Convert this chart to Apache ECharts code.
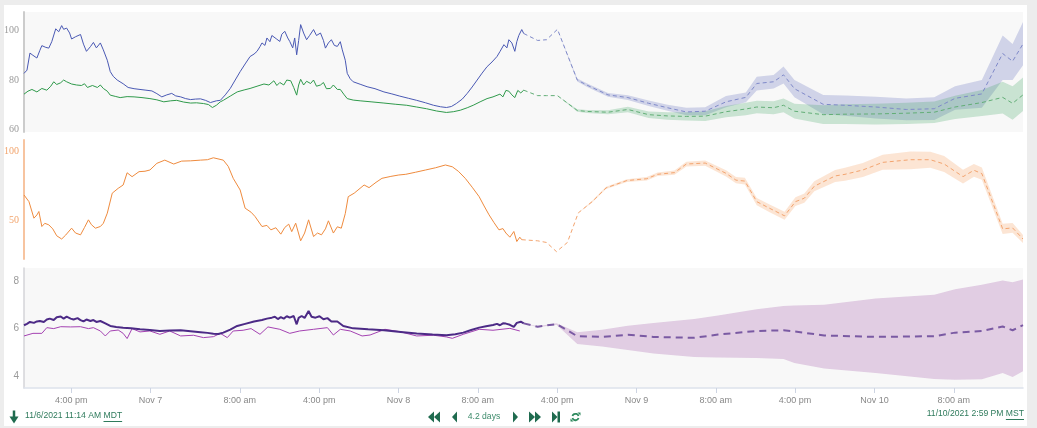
<!DOCTYPE html>
<html><head><meta charset="utf-8">
<script src="https://cdn.jsdelivr.net/npm/echarts@6.0.0/dist/echarts.min.js"></script>
<style>
html,body{margin:0;padding:0;background:#ededed;}
#card{position:absolute;left:4px;top:5px;width:1023px;height:421px;background:#fff;}
#chart{position:absolute;left:0;top:0;width:1037px;height:428px;}
</style></head><body>
<div id="card"></div><div id="chart"></div>
<script>
// time axis in hours since 11/6/2021 11:14 AM MDT (17:14 UTC)
const xMax = 100.75;
const xTickHours = [4.767, 12.767, 21.767, 29.767, 37.767, 45.767, 53.767, 61.767, 69.767, 77.767, 85.767, 93.767];
const xTickLabels = ['4:00 pm','Nov 7','8:00 am','4:00 pm','Nov 8','8:00 am','4:00 pm','Nov 9','8:00 am','4:00 pm','Nov 10','8:00 am'];
const y1Ticks = [60, 80, 100];
const y2Ticks = [50, 100];
const y3Ticks = [4, 6, 8];
const startText = '11/6/2021 11:14 AM', startZone = 'MDT';
const endText = '11/10/2021 2:59 PM', endZone = 'MST';
const spanText = '4.2 days';

// ---- panel 1 observed ----
const obsBlue = [[0,82.7],[0.3,84],[0.6,90.9],[0.9,90],[1.3,88.9],[1.6,92],[1.8,93.9],[2.2,93.2],[2.5,92.9],[2.8,95.5],[3.2,100.7],[3.5,99.5],[3.8,102],[4.0,100.5],[4.3,101],[4.6,99],[4.8,96.6],[5.2,97.5],[5.7,98.4],[6.0,94.5],[6.3,91.6],[6.7,93.5],[7.0,95.2],[7.3,93],[7.7,95],[8.0,92.2],[8.4,88],[8.7,83.4],[9.0,81.5],[9.4,80],[10.0,78.5],[10.5,77],[11.1,76.5],[11.7,76.2],[12.3,75.9],[12.9,75.6],[13.4,74.5],[13.9,73.2],[14.4,74],[14.9,74.6],[15.3,73.6],[15.8,73.2],[16.3,72.5],[16.8,72.1],[17.3,72.3],[17.8,72.4],[18.3,71.8],[18.8,70.9],[19.4,71.6],[19.8,71.8],[20.3,74],[20.8,76.6],[21.3,80],[21.8,83.4],[22.3,86.5],[22.8,89.5],[23.2,90.5],[23.5,91.6],[23.8,93.5],[24.0,95],[24.3,94],[24.5,97],[24.8,95.5],[25.0,98],[25.2,98.4],[25.5,96.5],[25.8,95.6],[26.0,98.5],[26.3,99.7],[26.6,97],[26.8,95.6],[27.1,93],[27.3,97],[27.5,90.2],[27.7,96],[27.9,102.4],[28.2,99],[28.5,96.3],[28.8,98],[29.2,100.4],[29.5,98],[29.9,99],[30.2,96],[30.4,92.9],[30.7,95],[31.0,96.3],[31.3,94],[31.6,93.6],[31.9,95.5],[32.1,92.2],[32.4,88],[32.6,82.7],[32.9,80.5],[33.2,79.3],[33.9,78.3],[34.6,77.3],[35.4,76.5],[36.3,75.2],[37.1,74.4],[37.9,73.5],[38.8,72.6],[39.6,71.8],[40.5,70.8],[41.3,69.8],[42.0,69.2],[42.6,68.9],[43.1,69.3],[43.6,70.5],[44.2,72.3],[44.7,74.6],[45.2,77.2],[45.7,80],[46.2,82.8],[46.7,85.4],[47.2,87.3],[47.7,89.5],[48.0,91.5],[48.4,94.3],[48.7,93],[48.9,96.3],[49.2,95],[49.5,91.6],[49.7,95.5],[49.9,98],[50.2,100.4],[50.4,98.8]];
const obsGreen = [[0,74.3],[0.4,75.5],[0.8,76.2],[1.3,75.2],[1.8,76.6],[2.3,75.9],[2.7,77.5],[3.0,79.3],[3.3,78.2],[3.7,78.9],[4.0,80],[4.3,79.3],[4.8,78.4],[5.3,78],[5.8,77.8],[6.1,78.5],[6.4,77],[6.9,77.8],[7.4,77],[7.7,78],[8.0,76.6],[8.4,75.5],[8.7,73.9],[9.2,73.4],[9.7,72.9],[10.4,73.3],[11.1,73.2],[11.9,72.9],[12.7,72.5],[13.4,72],[14.1,71.2],[14.8,71.6],[15.4,71.8],[16.1,71.1],[16.8,70.7],[17.4,70.8],[18.1,70.5],[18.6,70.1],[19.0,68.9],[19.4,69.8],[19.8,71.2],[20.1,71.8],[20.8,73.5],[21.5,75.2],[22.2,76],[22.8,76.6],[23.5,77.5],[24.2,78.4],[24.7,78],[25.2,79.7],[25.5,77.8],[25.8,79],[26.2,78],[26.5,80],[26.9,79.7],[27.2,77],[27.5,73.9],[27.7,78],[27.9,80.3],[28.2,78],[28.5,79.5],[28.9,78.6],[29.2,80],[29.5,77.5],[29.9,78],[30.2,79],[30.5,76.5],[30.9,76.6],[31.2,78],[31.6,76.2],[31.9,76.2],[32.3,74],[32.6,72.5],[33.2,71.9],[33.9,71.6],[35.0,71.2],[36.3,70.7],[37.5,70.2],[38.6,69.8],[39.6,69.1],[40.6,68.4],[41.6,67.5],[42.6,66.9],[43.3,67.2],[44.0,67.8],[44.7,68.8],[45.3,69.8],[46.0,71.2],[46.7,72.5],[47.3,73.2],[48.0,74.3],[48.3,73.2],[48.6,75.8],[48.9,75.5],[49.2,74],[49.5,72.9],[49.8,75.8],[50.1,74.8],[50.4,75.9]];

// ---- panel 1 forecast ----
const fcH1 = [50.4, 51.8, 52.7, 53.8, 55.8, 56.8, 58.9, 60.9, 63.0, 64.9, 66.8, 68.7, 70.8, 72.8, 73.9, 75.6, 76.6, 77.7, 80.6, 82.8, 85.9, 89.0, 91.8, 93.9, 96.6, 98.7, 99.7, 100.75];
const blueFc = [98.8, 96.0, 96.3, 100.5, 80.0, 77.9, 74.0, 72.9, 70.6, 68.8, 67.1, 67.4, 71.2, 73.0, 78.6, 79.3, 82.1, 76.5, 70.2, 69.8, 69.1, 68.1, 68.4, 72.6, 74.4, 90.7, 87.6, 94.6];
const blueHi = [98.8, 96.0, 96.3, 100.5, 80.6, 78.6, 74.8, 73.9, 71.7, 70.0, 68.8, 69.0, 73.5, 75.0, 81.3, 82.0, 85.5, 80.0, 74.0, 73.8, 73.2, 72.5, 73.0, 77.5, 80.0, 98.0, 94.6, 103.5];
const blueLo = [98.8, 96.0, 96.3, 100.5, 79.4, 77.2, 73.2, 71.9, 69.5, 67.6, 65.8, 65.8, 69.0, 71.0, 75.8, 76.6, 78.6, 73.0, 66.2, 65.6, 64.5, 63.7, 63.8, 68.0, 68.8, 80.0, 80.0, 86.0];
const greenFc = [75.9, 73.7, 73.7, 73.7, 67.7, 67.3, 67.0, 68.1, 66.0, 65.5, 65.3, 65.4, 67.2, 68.3, 69.1, 68.8, 69.8, 67.4, 66.0, 66.2, 66.3, 66.6, 67.0, 69.1, 70.9, 73.0, 70.6, 74.0];
const greenHi = [75.9, 73.7, 73.7, 73.7, 68.2, 67.9, 67.8, 69.2, 67.3, 67.0, 67.0, 67.4, 69.5, 70.8, 71.6, 71.4, 72.5, 70.4, 69.8, 70.2, 70.4, 70.8, 71.3, 73.7, 76.0, 79.3, 77.5, 81.0];
const greenLo = [75.9, 73.7, 73.7, 73.7, 67.2, 66.7, 66.2, 67.0, 64.7, 64.0, 63.6, 63.4, 65.0, 65.8, 66.6, 66.2, 67.0, 64.5, 62.2, 62.2, 62.0, 62.2, 62.6, 64.3, 65.5, 66.5, 64.0, 67.5];

// ---- panel 2 ----
const obsOrange = [[0,68.4],[0.5,63.6],[1.0,51.7],[1.3,54],[1.5,56.5],[1.8,45.7],[2.1,48],[2.5,46.9],[2.9,44],[3.3,39],[3.8,36.7],[4.2,39.5],[4.8,44.5],[5.2,41],[5.7,39.7],[6.1,45],[6.5,50.5],[6.8,47],[7.2,44.5],[7.7,45.7],[8.0,48],[8.4,55.3],[8.9,69.7],[9.5,73.2],[10.0,75.6],[10.4,84.4],[10.9,81.6],[11.6,85.2],[12.2,85.5],[12.7,86.4],[13.4,91.2],[14.2,93.5],[15.1,90.7],[15.9,92.8],[16.8,93],[17.8,93.5],[18.5,93.8],[19.1,95.2],[20.1,93.5],[20.6,89],[21.1,80.4],[21.8,72],[22.3,58.9],[22.9,56],[23.3,52.9],[24.0,45.7],[24.5,46.5],[24.9,43.3],[25.4,44.8],[25.9,40.2],[26.3,45],[26.7,47.4],[27.0,42],[27.4,48.1],[27.9,35.4],[28.3,41],[28.7,50.5],[29.2,38.5],[29.6,41],[30.0,39.7],[30.4,44],[30.7,49.8],[31.2,41],[31.6,45.5],[32.0,44.5],[32.4,55],[32.7,67.2],[33.3,69.7],[34.3,75.6],[34.8,73.7],[35.5,77.5],[36.1,80.4],[37.0,81.8],[37.8,82.8],[38.5,83.3],[39.5,84.8],[40.5,86.4],[41.5,88],[42.5,90],[43.2,88.7],[43.8,85.5],[44.5,80.4],[45.2,74],[45.9,67.2],[46.4,60.5],[46.9,54.1],[47.4,48.5],[47.9,43.3],[48.3,44.2],[48.6,41],[49.0,38],[49.4,42.1],[49.7,34.9],[50.0,38],[50.2,36.2]];
const fcH2 = [50.2, 51.8, 52.7, 53.7, 54.8, 55.9, 57.3, 58.7, 60.8, 62.8, 63.9, 65.6, 66.8, 68.7, 70.8, 71.8, 72.7, 73.9, 75.2, 76.7, 77.8, 78.7, 79.7, 81.8, 82.8, 84.6, 86.6, 89.4, 91.4, 92.8, 94.7, 95.8, 96.6, 98.7, 99.7, 100.75];
const orangeFc = [36.2, 35.4, 34.2, 27.6, 34.2, 55.5, 63.6, 73.5, 78.8, 80.1, 83.3, 84.5, 90.7, 91.4, 84.0, 79.1, 78.4, 63.6, 58.8, 53.4, 63.6, 66.1, 74.7, 82.1, 83.3, 86.4, 91.9, 93.8, 93.8, 90.7, 81.6, 86.2, 83.8, 44.0, 44.7, 36.7];
const orangeHi = [36.2, 35.4, 34.2, 27.6, 34.2, 55.5, 64.3, 74.3, 79.8, 81.3, 84.6, 86.0, 92.4, 93.3, 86.2, 81.4, 80.8, 66.2, 61.5, 56.3, 66.7, 69.4, 78.3, 86.4, 88.0, 91.4, 97.3, 99.7, 99.6, 96.4, 86.6, 90.8, 88.2, 47.7, 48.2, 39.5];
const orangeLo = [36.2, 35.4, 34.2, 27.6, 34.2, 55.5, 62.9, 72.7, 77.8, 78.9, 82.0, 83.0, 89.0, 89.5, 81.8, 76.8, 76.0, 61.0, 56.0, 50.5, 60.5, 62.8, 71.1, 77.8, 78.6, 81.4, 86.5, 86.9, 88.0, 85.0, 76.6, 81.6, 79.4, 40.3, 41.2, 33.9];

// ---- panel 3 ----
const obsPurple = [[0,6.14],[0.3,6.2],[0.6,6.28],[1.0,6.24],[1.3,6.3],[1.6,6.32],[2.0,6.28],[2.3,6.38],[2.6,6.42],[3.0,6.36],[3.3,6.48],[3.7,6.51],[4.0,6.42],[4.3,6.5],[4.7,6.42],[5.0,6.38],[5.4,6.44],[5.7,6.36],[6.0,6.3],[6.3,6.38],[6.7,6.32],[7.0,6.36],[7.3,6.28],[7.7,6.32],[8.2,6.22],[8.7,6.11],[9.3,6.07],[10.0,6.04],[10.8,6.01],[11.7,5.97],[12.7,5.94],[13.7,5.9],[14.7,5.92],[15.8,5.93],[16.8,5.89],[17.8,5.85],[18.5,5.82],[19.1,5.78],[19.6,5.77],[20.1,5.83],[20.8,5.96],[21.5,6.11],[22.3,6.2],[23.2,6.3],[24.0,6.36],[24.5,6.42],[25.0,6.46],[25.3,6.5],[25.6,6.4],[25.9,6.48],[26.2,6.42],[26.5,6.52],[26.8,6.46],[27.2,6.53],[27.5,6.18],[27.7,6.45],[28.0,6.53],[28.3,6.45],[28.7,6.74],[29.0,6.5],[29.4,6.46],[29.8,6.52],[30.2,6.39],[30.6,6.44],[31.0,6.3],[31.2,6.25],[31.6,6.3],[32.2,6.11],[33.2,6.01],[34.7,5.97],[36.3,5.93],[38.0,5.86],[39.6,5.79],[41.2,5.75],[42.6,5.72],[43.5,5.76],[44.3,5.83],[45.1,5.94],[45.9,6.04],[46.6,6.1],[47.3,6.15],[47.7,6.2],[48.0,6.14],[48.3,6.22],[48.6,6.21],[49.0,6.16],[49.4,6.07],[49.7,6.24],[50.1,6.29],[50.4,6.22]];
const obsMagenta = [[0,5.69],[0.9,5.8],[1.8,5.8],[2.3,6.04],[3.0,6.0],[3.7,6.08],[4.7,6.07],[5.7,6.08],[6.5,6.0],[7.0,6.04],[7.7,5.9],[8.2,5.69],[8.7,5.9],[9.5,5.94],[10.0,5.8],[10.4,5.58],[10.9,6.0],[11.7,5.86],[12.7,5.9],[13.7,5.76],[14.7,5.9],[15.8,5.69],[17.1,5.72],[18.1,5.62],[19.1,5.66],[19.8,5.8],[20.5,5.62],[21.1,5.9],[22.1,5.93],[22.9,6.0],[23.8,5.76],[24.6,6.07],[25.8,5.97],[26.8,5.8],[27.8,5.9],[29.2,5.97],[30.6,6.04],[31.2,5.73],[31.9,5.97],[32.9,5.9],[34.1,5.69],[34.9,5.73],[36.4,5.97],[37.9,5.87],[39.6,5.69],[41.3,5.72],[42.6,5.65],[43.2,5.59],[44.3,5.76],[45.9,5.97],[47.3,5.93],[49.0,6.01],[50.0,5.9]];
const fcH3 = [50.4, 51.8, 53.7, 55.8, 58.3, 60.9, 63.5, 67.6, 70.0, 73.9, 76.6, 77.7, 80.7, 85.9, 91.8, 93.9, 96.6, 98.7, 99.7, 100.75];
const purpleFc = [6.22, 6.08, 6.19, 5.68, 5.65, 5.74, 5.65, 5.61, 5.75, 5.90, 5.93, 5.88, 5.71, 5.65, 5.68, 5.83, 5.90, 6.09, 5.93, 6.15];
const purpleHi = [6.22, 6.10, 6.22, 5.85, 5.95, 6.12, 6.24, 6.40, 6.55, 6.81, 6.95, 6.97, 7.00, 7.27, 7.42, 7.66, 7.85, 8.02, 7.95, 8.07];
const purpleLo = [6.22, 6.06, 6.16, 5.35, 5.25, 5.10, 4.95, 4.80, 4.78, 4.76, 4.72, 4.55, 4.32, 4.13, 3.88, 3.85, 3.87, 4.13, 3.96, 4.20];

// ---------------------------------------------------------------
const zip = (h, v) => h.map((x, i) => [x, v[i]]);
function line(idx, data, color, width, dash, z) {
  return { type: 'line', xAxisIndex: idx, yAxisIndex: idx, data: data, showSymbol: false, symbol: 'none',
    silent: true, z: z, lineStyle: { color: color, width: width, type: dash ? dash : 'solid' } };
}
// confidence band drawn as one polygon through the axis scales
function band(idx, h, lo, hi, color) {
  return { type: 'custom', xAxisIndex: idx, yAxisIndex: idx, silent: true, z: 1,
    data: [[h[0], lo[0]]],
    renderItem: function (params, api) {
      const top = h.map((x, i) => api.coord([x, hi[i]]));
      const bot = h.map((x, i) => api.coord([x, lo[i]])).reverse();
      return { type: 'polygon', shape: { points: top.concat(bot) }, style: { fill: color } };
    } };
}
const FONT = '"Liberation Sans", Arial, sans-serif';
const TFONT = '8.6px ' + FONT;
const mctx = document.createElement('canvas').getContext('2d');
mctx.font = TFONT;
const tw = s => mctx.measureText(s).width;

const gridBase = { left: 24, right: 14, containLabel: false, show: true, borderWidth: 0 };
function xAx(idx, showLabels) {
  return { type: 'value', gridIndex: idx, min: 0, max: xMax,
    axisLine: { show: showLabels, lineStyle: { color: '#dde2ec', width: 1.5 } },
    axisTick: { show: showLabels, customValues: xTickHours, length: 5, lineStyle: { color: '#cdd4e2' } },
    axisLabel: { show: showLabels, customValues: xTickHours, color: '#888', fontSize: 9, fontFamily: FONT, margin: 8,
      formatter: v => { const i = xTickHours.findIndex(t => Math.abs(t - v) < 0.01); return i >= 0 ? xTickLabels[i] : ''; } },
    splitLine: { show: false } };
}
function yAx(idx, min, max, ticks, lineColor, lineWidth, labelColor, family) {
  return { type: 'value', gridIndex: idx, min: min, max: max,
    axisLine: { show: true, lineStyle: { color: lineColor, width: lineWidth } },
    axisTick: { show: false },
    axisLabel: { customValues: ticks, color: labelColor, fontSize: 10, fontFamily: family, margin: 5 },
    splitLine: { show: false } };
}
const G = '#1f6b4f', GT = '#2f7b5c';
function txt(x, y, s, align, color) {
  return { type: 'text', x: x, y: y, style: { text: s, fill: color || GT, font: TFONT, textAlign: align, textVerticalAlign: 'middle', align: align, verticalAlign: 'middle' } };
}
const sw = tw(' ');
const mdtX = 25 + tw(startText) + sw;
const mstW = tw(endZone);
const mstX = 1024 - mstW;

const chart = echarts.init(document.getElementById('chart'), null, { renderer: 'canvas' });
chart.setOption({
  animation: false,
  backgroundColor: 'transparent',
  grid: [
    Object.assign({}, gridBase, { top: 12, height: 120, backgroundColor: '#f8f8f8' }),
    Object.assign({}, gridBase, { top: 140, height: 119, backgroundColor: '#ffffff' }),
    Object.assign({}, gridBase, { top: 268, height: 120, backgroundColor: '#f8f8f8' })
  ],
  xAxis: [xAx(0, false), xAx(1, false), xAx(2, true)],
  yAxis: [
    yAx(0, 59, 107.5, y1Ticks, '#cccccc', 2, '#9a9a9a', '"Liberation Serif", "DejaVu Serif", serif'),
    yAx(1, 22.3, 108, y2Ticks, '#f7c4a0', 2, '#f2a46c', '"Liberation Serif", "DejaVu Serif", serif'),
    yAx(2, 3.5, 8.55, y3Ticks, '#d4d4d8', 1.5, '#9a9a9a', FONT)
  ],
  series: [
    band(0, fcH1, blueLo, blueHi, 'rgba(100,110,190,0.27)'),
    band(0, fcH1, greenLo, greenHi, 'rgba(60,165,95,0.25)'),
    line(0, zip(fcH1, blueFc), '#7f89c9', 1, [4, 3], 3),
    line(0, zip(fcH1, greenFc), '#62ae76', 1, [4, 3], 3),
    line(0, obsGreen, '#2f9a4b', 1, null, 4),
    line(0, obsBlue, '#4a59b4', 1, null, 4),
    band(1, fcH2, orangeLo, orangeHi, 'rgba(245,150,85,0.25)'),
    line(1, zip(fcH2, orangeFc), '#f3a46f', 1, [4, 3], 3),
    line(1, obsOrange, '#ef8b3e', 1, null, 4),
    band(2, fcH3, purpleLo, purpleHi, 'rgba(155,75,165,0.25)'),
    line(2, zip(fcH3, purpleFc), '#7a5aa3', 2, [7, 5], 3),
    line(2, obsMagenta, '#a442b2', 1, null, 4),
    line(2, obsPurple, '#4c2a86', 2, null, 5)
  ],
  graphic: [
    { type: 'line', shape: { x1: 14, y1: 410.5, x2: 14, y2: 418 }, style: { stroke: G, lineWidth: 2.5 } },
    { type: 'polygon', shape: { points: [[9.5, 416.5], [18.5, 416.5], [14, 423.5]] }, style: { fill: G } },
    txt(25, 415.5, startText, 'left'),
    txt(mdtX, 415.5, startZone, 'left'),
    { type: 'line', shape: { x1: mdtX, y1: 421.5, x2: mdtX + tw(startZone), y2: 421.5 }, style: { stroke: GT, lineWidth: 1 } },

    { type: 'polygon', shape: { points: [[428, 417], [434, 411.5], [434, 422.5]] }, style: { fill: G } },
    { type: 'polygon', shape: { points: [[434, 417], [440, 411.5], [440, 422.5]] }, style: { fill: G } },
    { type: 'polygon', shape: { points: [[452, 417], [457, 411.5], [457, 422.5]] }, style: { fill: G } },
    txt(484, 416.5, spanText, 'center', '#3d8b6b'),
    { type: 'polygon', shape: { points: [[513, 411.5], [518, 417], [513, 422.5]] }, style: { fill: G } },
    { type: 'polygon', shape: { points: [[529, 411.5], [535, 417], [529, 422.5]] }, style: { fill: G } },
    { type: 'polygon', shape: { points: [[535, 411.5], [541, 417], [535, 422.5]] }, style: { fill: G } },
    { type: 'polygon', shape: { points: [[552, 411.5], [557.5, 417], [552, 422.5]] }, style: { fill: G } },
    { type: 'rect', shape: { x: 557.5, y: 411.5, width: 2.5, height: 11 }, style: { fill: G } },
    { type: 'arc', shape: { cx: 575.5, cy: 417, r: 3.2, startAngle: Math.PI * 1.1, endAngle: Math.PI * 1.9 }, style: { stroke: '#2e8a5e', lineWidth: 1.8, fill: 'none' } },
    { type: 'arc', shape: { cx: 575.5, cy: 417, r: 3.2, startAngle: Math.PI * 0.1, endAngle: Math.PI * 0.9 }, style: { stroke: '#2e8a5e', lineWidth: 1.8, fill: 'none' } },
    { type: 'polygon', shape: { points: [[577.5, 412.5], [580.5, 412.5], [580.5, 415.5]] }, style: { fill: '#2e8a5e' } },
    { type: 'polygon', shape: { points: [[573.5, 421.5], [570.5, 421.5], [570.5, 418.5]] }, style: { fill: '#2e8a5e' } },

    txt(mstX - sw, 413.5, endText, 'right'),
    txt(mstX, 413.5, endZone, 'left'),
    { type: 'line', shape: { x1: mstX, y1: 419.5, x2: 1024, y2: 419.5 }, style: { stroke: GT, lineWidth: 1 } }
  ]
});
</script></body></html>
